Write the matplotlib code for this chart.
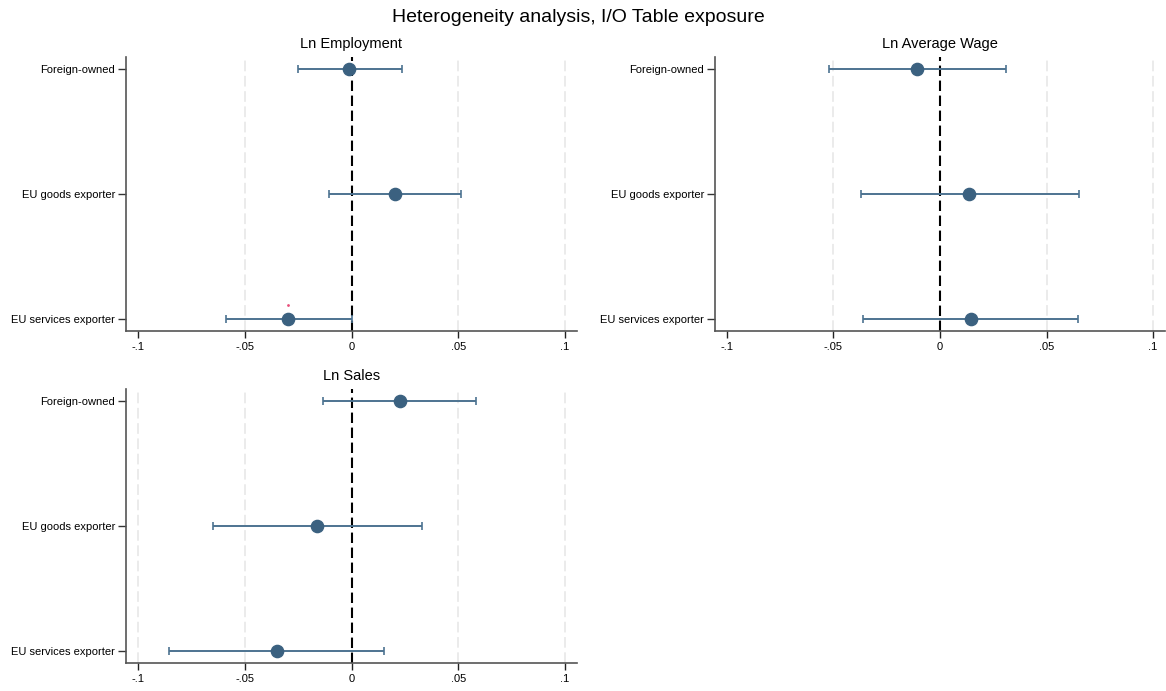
import matplotlib.pyplot as plt
import numpy as np

plt.rcParams['font.family'] = ['Liberation Sans', 'DejaVu Sans']

# regressors, top to bottom
groups = ['Foreign-owned', 'EU goods exporter', 'EU services exporter']

# coefficient and 95% CI per outcome
emp_coef = [-0.001, 0.0204, -0.0296]
emp_lo = [-0.0249, -0.0104, -0.0586]
emp_hi = [0.0235, 0.0514, 0.0]
emp_sig = [False, False, True]

wage_coef = [-0.0107, 0.0138, 0.0144]
wage_lo = [-0.0522, -0.0373, -0.0361]
wage_hi = [0.0310, 0.0651, 0.0646]
wage_sig = [False, False, False]

sales_coef = [0.0226, -0.0160, -0.0349]
sales_lo = [-0.0133, -0.0649, -0.0853]
sales_hi = [0.0584, 0.0330, 0.0152]
sales_sig = [False, False, False]

xticks = [-0.1, -0.05, 0, 0.05, 0.1]
xticklabels = ['-.1', '-.05', '0', '.05', '.1']

W, H = 1166, 691
fig = plt.figure(figsize=(W / 100, H / 100), dpi=100, facecolor='white')


def px_axes(left, top, right, bottom):
    return fig.add_axes([left / W, 1 - bottom / H, (right - left) / W, (bottom - top) / H])


def coefplot(ax, title, coef, lo, hi, sig, grid_ticks):
    y = np.arange(1, len(groups) + 1)
    ax.set_xlim(-0.1056, 0.1056)
    ax.set_ylim(3.095, 0.905)

    # light dashed grid plus the zero reference line
    for gx in grid_ticks:
        ax.axvline(gx, color='#e6e6e6', lw=1.1, dashes=(7, 3), zorder=0)
    ax.axvline(0, color='black', lw=1.5, dashes=(5, 2.2), zorder=1)

    coef = np.array(coef)
    err = [coef - np.array(lo), np.array(hi) - coef]
    ax.errorbar(coef, y, xerr=err, fmt='none', ecolor='#4d7391',
                elinewidth=1.4, capsize=2.6, capthick=1.2, zorder=2)
    ax.plot(coef, y, 'o', color='#3b6180', ms=8.8, zorder=3)

    # tiny red mark above significant estimates
    for c, yy, s in zip(coef, y, sig):
        if s:
            ax.plot([c], [yy - 0.11], '.', color='#e8507c', ms=2, zorder=4)

    ax.set_yticks(y)
    ax.set_yticklabels(groups)
    ax.set_xticks(xticks)
    ax.set_xticklabels(xticklabels)
    ax.tick_params(axis='y', length=6, width=1, pad=2, labelsize=8, color='#333333')
    ax.tick_params(axis='x', length=5, width=1, pad=3, labelsize=8, color='#222222')
    for side in ['top', 'right']:
        ax.spines[side].set_visible(False)
    for side in ['left', 'bottom']:
        ax.spines[side].set_color('#555555')
        ax.spines[side].set_linewidth(1.2)
    ax.text(0.5, 1 + 13.5 / 274, title, transform=ax.transAxes,
            ha='center', va='center', fontsize=10.5)


ax1 = px_axes(126, 57, 577, 331)
ax2 = px_axes(715, 57, 1165, 331)
ax3 = px_axes(126, 389, 577, 663)

coefplot(ax1, 'Ln Employment', emp_coef, emp_lo, emp_hi, emp_sig, [-0.05, 0.05, 0.1])
coefplot(ax2, 'Ln Average Wage', wage_coef, wage_lo, wage_hi, wage_sig, [-0.05, 0.05, 0.1])
coefplot(ax3, 'Ln Sales', sales_coef, sales_lo, sales_hi, sales_sig, [-0.1, -0.05, 0.05, 0.1])

fig.text(578 / W, 1 - 18 / H, 'Heterogeneity analysis, I/O Table exposure',
         ha='center', va='center', fontsize=14)

fig.savefig('out.png', dpi=100, facecolor='white')
